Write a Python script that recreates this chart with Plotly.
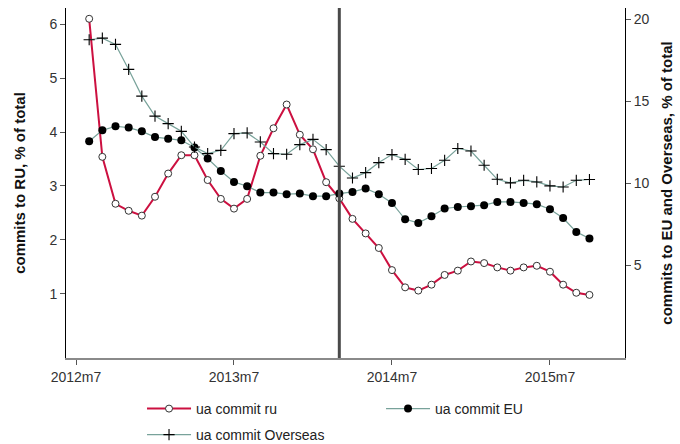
import pandas as pd
import plotly.graph_objects as go

# Monthly observations, 2012m8 .. 2015m10
months = [f"{p.year}m{p.month}" for p in pd.period_range("2012-08", "2015-10", freq="M")]

# Share of commits to Russia, % of total (left axis)
ua_commit_ru = [
    6.10, 3.54, 2.67, 2.54, 2.45, 2.80, 3.23, 3.57, 3.57, 3.11,
    2.76, 2.58, 2.76, 3.56, 4.07, 4.51, 3.95, 3.68, 3.07, 2.77,
    2.39, 2.12, 1.85, 1.44, 1.12, 1.06, 1.17, 1.35, 1.43, 1.60,
    1.57, 1.49, 1.43, 1.49, 1.52, 1.41, 1.17, 1.02, 0.98,
]

# Share of commits to the EU, % of total (right axis)
ua_commit_eu = [
    12.56, 13.23, 13.48, 13.40, 13.17, 12.82, 12.72, 12.62, 12.18, 11.51,
    10.75, 10.08, 9.82, 9.43, 9.43, 9.33, 9.37, 9.21, 9.21, 9.37,
    9.47, 9.68, 9.33, 8.80, 7.80, 7.58, 7.99, 8.46, 8.55, 8.60,
    8.66, 8.86, 8.86, 8.80, 8.72, 8.41, 7.88, 7.03, 6.63,
]

# Share of commits to overseas countries, % of total (right axis)
ua_commit_overseas = [
    18.76, 18.86, 18.48, 16.95, 15.32, 14.10, 13.64, 13.17, 12.21, 11.81,
    12.01, 13.03, 13.07, 12.52, 11.81, 11.77, 12.36, 12.68, 12.05, 11.04,
    10.32, 10.65, 11.26, 11.75, 11.46, 10.84, 10.90, 11.40, 12.12, 11.97,
    11.10, 10.24, 10.02, 10.18, 10.08, 9.84, 9.77, 10.18, 10.23,
]

tick_labels = ["2012m7", "2013m7", "2014m7", "2015m7"]
event_month = "2014m3"


def month_index(label):
    """Months elapsed since 2012m7."""
    y, m = label.split("m")
    return (int(y) - 2012) * 12 + int(m) - 7


x = [month_index(m) for m in months]
tick_vals = [month_index(t) for t in tick_labels]

RED = "#cc1040"
TEAL = "#78a29a"
FONT = "Liberation Sans, Arial, sans-serif"

fig = go.Figure()

fig.add_trace(go.Scatter(
    x=x, y=ua_commit_ru, name="ua commit ru", mode="lines+markers",
    line=dict(color=RED, width=2),
    marker=dict(symbol="circle", size=7, color="white",
                line=dict(color="#333333", width=1)),
    legend="legend",
))
fig.add_trace(go.Scatter(
    x=x, y=ua_commit_eu, name="ua commit EU", mode="lines+markers",
    line=dict(color=TEAL, width=1.2),
    marker=dict(symbol="circle", size=8, color="black"),
    yaxis="y2", legend="legend",
))
fig.add_trace(go.Scatter(
    x=x, y=ua_commit_overseas, name="ua commit Overseas", mode="lines+markers",
    line=dict(color=TEAL, width=1.2),
    marker=dict(symbol="cross-thin", size=8, color="black",
                line=dict(color="black", width=1.1)),
    yaxis="y2", legend="legend2",
))

fig.add_shape(
    type="line", xref="x", yref="paper",
    x0=month_index(event_month), x1=month_index(event_month), y0=0, y1=1,
    line=dict(color="#4a4a4a", width=3),
)

legend_common = dict(
    orientation="h", xanchor="left", yanchor="middle",
    font=dict(family=FONT, size=14, color="#222222"),
    bgcolor="rgba(0,0,0,0)", itemwidth=44,
    entrywidth=180, entrywidthmode="pixels",
)

fig.update_layout(
    width=680, height=444,
    margin=dict(l=66, r=55, t=8, b=86, autoexpand=False),
    paper_bgcolor="white", plot_bgcolor="white",
    font=dict(family=FONT, size=13, color="#333333"),
    showlegend=True,
    legend=dict(x=0.136, y=-(409 - 358) / 350, **legend_common),
    legend2=dict(x=0.136, y=-(435 - 358) / 350, **legend_common),
    xaxis=dict(
        range=[-0.76, 41.7], tickmode="array", tickvals=tick_vals,
        ticktext=tick_labels, ticks="outside", ticklen=5,
        tickcolor="#555555", showgrid=False, zeroline=False,
        showline=True, linecolor="#8a8a8a", linewidth=2,
        tickfont=dict(size=14, color="#333333"),
    ),
    yaxis=dict(
        range=[-0.19, 6.30], tickvals=[1, 2, 3, 4, 5, 6],
        ticks="outside", ticklen=5, tickcolor="#555555",
        showgrid=False, zeroline=False, showline=True,
        linecolor="black", linewidth=1,
        tickfont=dict(size=14, color="#333333"),
        title=dict(text="<b>commits to RU, % of total</b>",
                   font=dict(size=15, color="#111111"), standoff=20),
    ),
    yaxis2=dict(
        range=[-0.67, 20.7], tickvals=[5, 10, 15, 20], overlaying="y",
        side="right", ticks="outside", ticklen=5, tickcolor="#555555",
        showgrid=False, zeroline=False, showline=True,
        linecolor="black", linewidth=1,
        tickfont=dict(size=14, color="#333333"),
        title=dict(text="<b>commits to EU and Overseas, % of total</b>",
                   font=dict(size=15, color="#111111"), standoff=12),
    ),
)

fig.write_html("out.html")
